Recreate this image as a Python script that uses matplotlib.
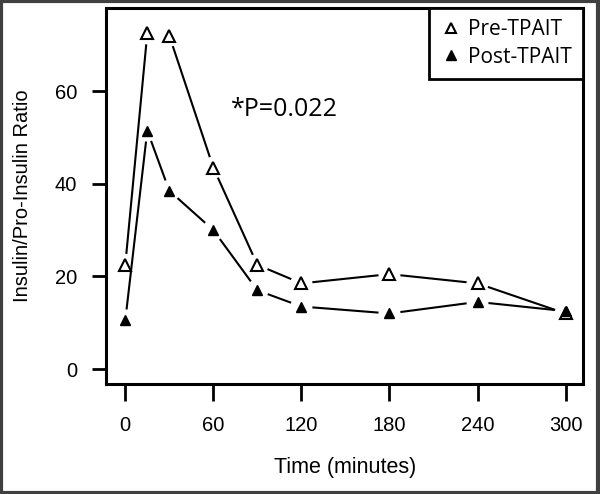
import numpy as np
import matplotlib.pyplot as plt
from matplotlib.patches import Rectangle

# insulin / pro-insulin ratio over time
time_min = [0, 15, 30, 60, 90, 120, 180, 240, 300]
pre_tpait = [22.5, 72.5, 72.0, 43.5, 22.5, 18.5, 20.5, 18.5, 12.0]
post_tpait = [10.5, 51.5, 38.5, 30.0, 17.0, 13.5, 12.0, 14.5, 12.5]

x_ticks = [0, 60, 120, 180, 240, 300]
y_ticks = [0, 20, 40, 60]

plt.rcParams['font.family'] = ['Liberation Sans', 'DejaVu Sans']

fig = plt.figure(figsize=(6.0, 4.94), dpi=100)
ax = fig.add_axes([0.177, 0.223, 0.795, 0.761])
ax.set_xlim(-13, 312)
ax.set_ylim(-3.2, 78)


def gapped_line(ax, xs, ys, gap=11):
    # R style type="b": segments stop short of the points
    fig.canvas.draw()
    pts = ax.transData.transform(np.column_stack([xs, ys]))
    inv = ax.transData.inverted()
    for p0, p1 in zip(pts[:-1], pts[1:]):
        d = p1 - p0
        L = np.hypot(*d)
        if L <= 2 * gap + 2:
            continue
        u = d / L
        a = inv.transform(p0 + u * gap)
        b = inv.transform(p1 - u * gap)
        ax.plot([a[0], b[0]], [a[1], b[1]], color='black', lw=1.5,
                solid_capstyle='butt')


gapped_line(ax, time_min, pre_tpait)
gapped_line(ax, time_min, post_tpait)

ax.plot(time_min, pre_tpait, linestyle='none', marker='^', ms=8.5,
        mfc='white', mec='black', mew=1.5, label='Pre-TPAIT')
ax.plot(time_min, post_tpait, linestyle='none', marker='^', ms=7.5,
        mfc='black', mec='black', label='Post-TPAIT')

ax.text(72, 54.6, '*P=0.022', fontsize=18, family=['Open Sans', 'DejaVu Sans'])

ax.set_xticks(x_ticks)
ax.set_yticks(y_ticks)
ax.tick_params(axis='x', length=12, width=2, labelsize=14.5, pad=11)
ax.tick_params(axis='y', length=10, width=2, labelsize=14.5, pad=11)
for s in ax.spines.values():
    s.set_linewidth(2.2)

ax.set_xlabel('Time (minutes)', fontsize=15.5, labelpad=16)
ax.set_ylabel('Insulin/Pro-Insulin Ratio', fontsize=14.5, labelpad=16)

leg = ax.legend(loc='upper right', borderaxespad=0, fancybox=False,
                framealpha=1, edgecolor='black', handlelength=1.0,
                handletextpad=0.3, borderpad=0.55, labelspacing=0.3,
                prop={'family': ['Open Sans', 'DejaVu Sans'], 'size': 15})
leg.get_frame().set_linewidth(2)
for h in leg.legend_handles:
    h.set_markersize(6.5)

fig.patches.append(Rectangle((0.002, 0.003), 0.995, 0.994, transform=fig.transFigure,
                             fill=False, edgecolor='#404040', lw=3))

fig.savefig('out.png', dpi=100)
